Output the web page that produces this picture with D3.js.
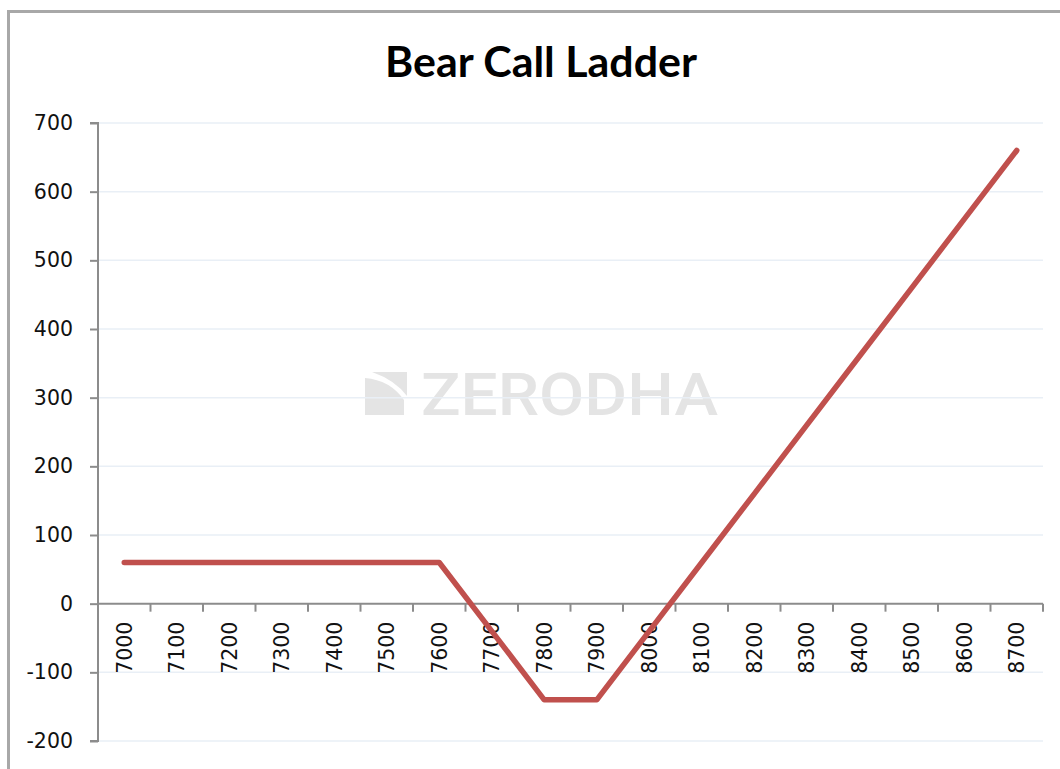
<!DOCTYPE html>
<html>
<head>
<meta charset="utf-8">
<script src="https://cdn.jsdelivr.net/npm/d3@7"></script>
<style>
  html, body { margin: 0; padding: 0; background: #fff; }
  svg { display: block; }
</style>
</head>
<body>
<svg id="chart" width="1060" height="769"></svg>
<script>
// ---- data ----
const strikes = ["7000","7100","7200","7300","7400","7500","7600","7700","7800",
                 "7900","8000","8100","8200","8300","8400","8500","8600","8700"];
const payoff  = [60, 60, 60, 60, 60, 60, 60, -40, -140,
                 -140, -40, 60, 160, 260, 360, 460, 560, 660];
const yTicks  = [-200, -100, 0, 100, 200, 300, 400, 500, 600, 700];
const title   = "Bear Call Ladder";
const watermark = "ZERODHA";

const svg = d3.select("#chart");

// outer chart border (only top/left visible in view)
svg.append("rect")
  .attr("x", 8.5).attr("y", 11.5)
  .attr("width", 1200).attr("height", 900)
  .attr("fill", "#fff")
  .attr("stroke", "#a8a8a8").attr("stroke-width", 3);

const x = d3.scaleBand().domain(strikes).range([98, 1043]).padding(0);
const y = d3.scaleLinear().domain([-200, 700]).range([741, 123]);

// watermark
const wm = svg.append("g").attr("fill", "#e4e4e4");
wm.append("path")
  .attr("d", "M365,415 L365,378 Q390,380 404,400 L404,415 Z M372,372 L407,372 L407,396 Q395,380 372,372 Z");
wm.append("text")
  .attr("x", 421).attr("y", 415)
  .attr("font-family", "Roboto, 'DejaVu Sans', sans-serif")
  .attr("font-weight", 500)
  .attr("font-size", 59)
  .attr("textLength", 297)
  .attr("lengthAdjust", "spacingAndGlyphs")
  .text(watermark);

// gridlines
svg.append("g")
  .selectAll("line")
  .data(yTicks.filter(d => d !== 0))
  .join("line")
  .attr("x1", 98).attr("x2", 1043)
  .attr("y1", d => y(d)).attr("y2", d => y(d))
  .attr("stroke", "#e9eff6").attr("stroke-width", 1.5);

// y axis
const yAxis = d3.axisLeft(y).tickValues(yTicks).tickSize(8).tickPadding(17)
  .tickFormat(d => String(d));
const gy = svg.append("g").attr("transform", "translate(98,0)").call(yAxis);
gy.select(".domain").attr("stroke", "#8c8c8c").attr("stroke-width", 2)
  .attr("d", `M-8,${y(700)}H0V${y(-200)}H-8`);
gy.selectAll(".tick line").attr("stroke", "#8c8c8c").attr("stroke-width", 2);
gy.selectAll(".tick text")
  .attr("font-family", "'DejaVu Sans', Verdana, sans-serif")
  .attr("font-size", 20.5).attr("fill", "#111");

// x axis at zero (category axis with ticks between categories)
const gx = svg.append("g").attr("transform", `translate(0,${y(0)})`);
gx.append("line").attr("x1", 98).attr("x2", 1043)
  .attr("stroke", "#8c8c8c").attr("stroke-width", 2);
const boundaries = strikes.map(s => x(s)).concat([x(strikes[strikes.length-1]) + x.bandwidth()]);
gx.selectAll("line.tk").data(boundaries.slice(1)).join("line")
  .attr("class", "tk")
  .attr("x1", d => d).attr("x2", d => d)
  .attr("y1", 0).attr("y2", 8)
  .attr("stroke", "#8c8c8c").attr("stroke-width", 2);
gx.selectAll("text").data(strikes).join("text")
  .attr("transform", d => `translate(${x(d) + x.bandwidth()/2},18) rotate(-90)`)
  .attr("text-anchor", "end")
  .attr("dy", "0.36em")
  .attr("font-family", "'DejaVu Sans', Verdana, sans-serif")
  .attr("font-size", 20.5).attr("fill", "#111")
  .text(d => d);

// line
const line = d3.line()
  .x((d, i) => x(strikes[i]) + x.bandwidth()/2)
  .y(d => y(d));
svg.append("path")
  .datum(payoff)
  .attr("d", line)
  .attr("fill", "none")
  .attr("stroke", "#c0504d")
  .attr("stroke-width", 5.5)
  .attr("stroke-linejoin", "round")
  .attr("stroke-linecap", "round");

// title
const t = svg.append("text")
  .attr("x", 541).attr("y", 77)
  .attr("text-anchor", "middle")
  .attr("font-family", "Lato, 'Open Sans', sans-serif")
  .attr("font-weight", 700)
  .attr("font-size", 40)
  .attr("fill", "#000")
  .text(title);
const len = t.node().getComputedTextLength();
t.attr("font-size", 40 * 312 / len);
</script>
</body>
</html>
